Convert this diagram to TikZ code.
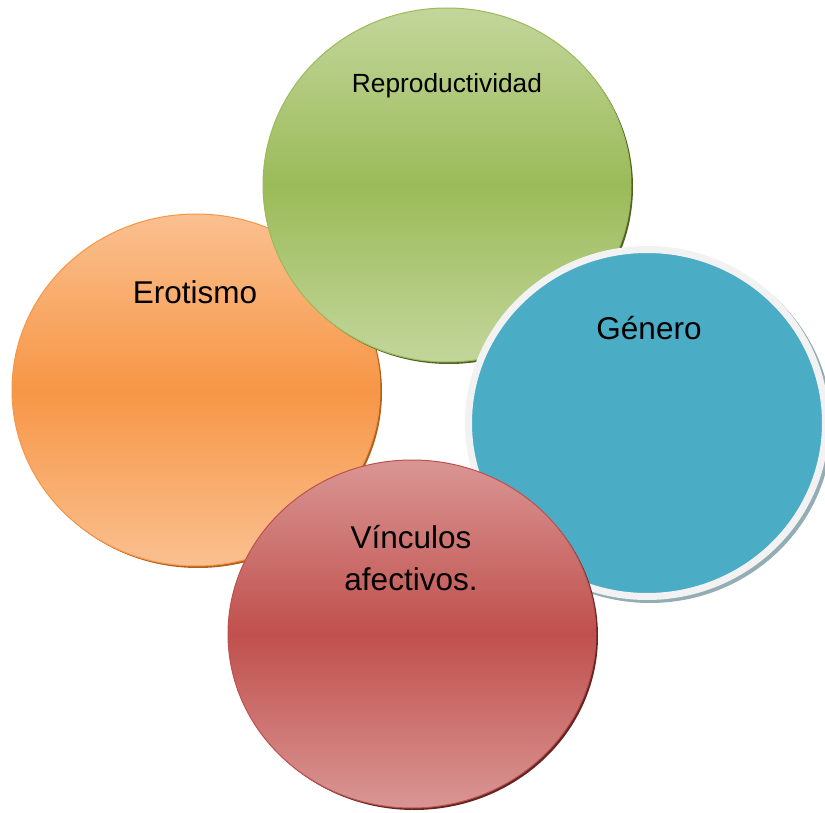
\documentclass[tikz,border=0pt]{standalone}
\usepackage{fontspec}
\setmainfont{Liberation Sans}
\usetikzlibrary{shapes.geometric}
\definecolor{orLight}{HTML}{FAC090}
\definecolor{orMid}{HTML}{F79646}
\definecolor{orDark}{HTML}{B0601F}
\definecolor{grLight}{HTML}{C3D69B}
\definecolor{grMid}{HTML}{9BBB59}
\definecolor{grDark}{HTML}{4F6228}
\definecolor{rdLight}{HTML}{D99694}
\definecolor{rdMid}{HTML}{C0504D}
\definecolor{rdDark}{HTML}{632523}
\definecolor{blFill}{HTML}{4BACC6}
\definecolor{blRim}{HTML}{F2F2F2}
\definecolor{blShadow}{HTML}{93ADB5}
\tikzset{
  blob/.style={ellipse, inner sep=0pt, minimum width=368pt, minimum height=352pt},
  shade3/.style n args={3}{shading=axis, top color=#1, bottom color=#3, middle color=#2, draw=#2, line width=1pt},
  lbl/.style={anchor=base, font=\fontsize{31.5}{36}\selectfont, text=black},
  lblsmall/.style={anchor=base, font=\fontsize{26.3}{30}\selectfont, text=black}
}
\begin{document}
\begin{tikzpicture}[x=1pt,y=-1pt]
\useasboundingbox (0,0) rectangle (825,813);
% Erotismo
\node[blob, fill=orDark] (eroS) at (198,392) {};
\node[blob, shade3={orLight}{orMid}{orLight}] (ero) at (196,390) {};
% Reproductividad
\node[blob, fill=grDark, minimum height=354pt] (repS) at (449,187) {};
\node[blob, minimum height=354pt, shade3={grLight}{grMid}{grLight}] (rep) at (447,185) {};
% Genero
\node[blob, fill=blShadow, minimum width=364pt, minimum height=354pt] (genS) at (650,426) {};
\node[blob, fill=blFill, draw=blRim, line width=7pt, minimum width=357pt, minimum height=347pt] (gen) at (647,423) {};
% Vinculos
\node[blob, fill=rdDark, minimum height=348pt] (vinS) at (414,636) {};
\node[blob, minimum height=348pt, shade3={rdLight}{rdMid}{rdLight}] (vin) at (412,634) {};
% labels
\node[lblsmall] (t1) at (447,93) {Reproductividad};
\node[lbl] (t2) at (195,303) {Erotismo};
\node[lbl] (t3) at (649,339) {Género};
\node[lbl] (t4) at (411,548) {Vínculos};
\node[lbl] (t5) at (411,590) {afectivos.};
\end{tikzpicture}
\end{document}
